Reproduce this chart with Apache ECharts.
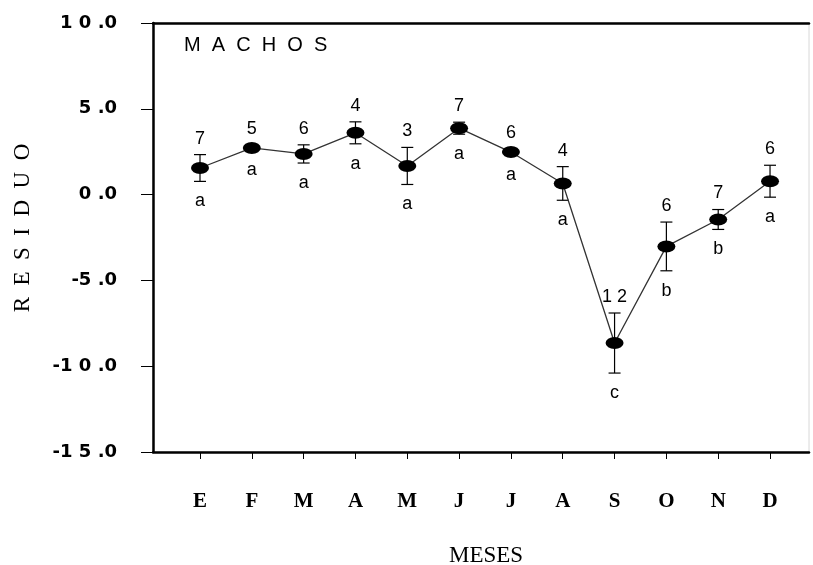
<!DOCTYPE html>
<html>
<head>
<meta charset="utf-8">
<script src="https://cdn.jsdelivr.net/npm/echarts@6/dist/echarts.min.js"></script>
<style>
  html, body { margin: 0; padding: 0; background: #fff; }
  #chart { width: 813px; height: 565px; }
</style>
</head>
<body>
<div id="chart"></div>
<script>
// Monthly mean residual (males) with error bars, sample size and group letter
const months = ['E', 'F', 'M', 'A', 'M', 'J', 'J', 'A', 'S', 'O', 'N', 'D'];
const residualMean = [1.55, 2.72, 2.37, 3.60, 1.67, 3.87, 2.48, 0.65, -8.65, -3.02, -1.45, 0.78];
const residualErr = [0.78, 0.15, 0.53, 0.64, 1.08, 0.35, 0.15, 0.98, 1.75, 1.42, 0.58, 0.93];
const sampleSize = [7, 5, 6, 4, 3, 7, 6, 4, 12, 6, 7, 6];
const groupLetter = ['a', 'a', 'a', 'a', 'a', 'a', 'a', 'a', 'c', 'b', 'b', 'a'];
const yTicks = [-15, -10, -5, 0, 5, 10];

const monthPos = months.map((_, i) => i + 1);
const lineData = monthPos.map((x, i) => [x, residualMean[i]]);
const errData = monthPos.map((x, i) => [x, residualMean[i], residualErr[i]]);

// "10.0" -> "1 0 .0"
function spacedNumber(v) {
  const s = Math.abs(v).toFixed(1).split('.');
  return (v < 0 ? '-' : '') + s[0].split('').join(' ') + ' .' + s[1];
}

const chart = echarts.init(document.getElementById('chart'), null, { renderer: 'canvas' });

const xMin = 0.093, xMax = 12.752;

chart.setOption({
  animation: false,
  backgroundColor: '#ffffff',
  grid: {
    left: 153, right: 4, top: 23, bottom: 113,
    show: true, borderColor: '#d8d8d8', borderWidth: 1, backgroundColor: 'transparent'
  },
  xAxis: [{
    type: 'value', position: 'bottom', min: xMin, max: xMax,
    splitLine: { show: false },
    axisLine: { show: true, onZero: false, lineStyle: { color: '#000', width: 2.5 } },
    axisTick: { show: true, inside: false, length: 7, customValues: monthPos, lineStyle: { color: '#000', width: 1 } },
    axisLabel: {
      customValues: monthPos, margin: 39,
      formatter: v => months[Math.round(v) - 1],
      fontFamily: 'Liberation Serif', fontWeight: 'bold', fontSize: 21, color: '#000'
    }
  }, {
    type: 'value', position: 'top', min: xMin, max: xMax,
    splitLine: { show: false },
    axisLine: { show: true, onZero: false, lineStyle: { color: '#000', width: 2.5 } },
    axisTick: { show: false },
    axisLabel: { show: false }
  }],
  yAxis: {
    type: 'value', min: yTicks[0], max: yTicks[yTicks.length - 1], interval: 5,
    splitLine: { show: false },
    axisLine: { show: true, onZero: false, lineStyle: { color: '#000', width: 2.5 } },
    axisTick: { show: true, inside: false, length: 12, lineStyle: { color: '#000', width: 1 } },
    axisLabel: {
      margin: 36, formatter: v => spacedNumber(v),
      fontFamily: 'DejaVu Sans', fontWeight: 'bold', fontSize: 18, color: '#000'
    }
  },
  graphic: [
    {
      type: 'text', left: 184, top: 35,
      style: { text: 'M  A  C  H  O  S', font: '20px "Liberation Sans"', fill: '#000' }
    },
    {
      type: 'text', x: 23, y: 228, rotation: Math.PI / 2,
      style: {
        text: 'R  E  S  I  D  U  O', font: '23px "Liberation Serif"', fill: '#000',
        align: 'center', verticalAlign: 'middle'
      }
    },
    {
      type: 'text', x: 486, y: 556,
      style: {
        text: 'MESES', font: '23px "Liberation Serif"', fill: '#000',
        align: 'center', verticalAlign: 'middle'
      }
    }
  ],
  series: [
    {
      // error bars plus sample size (above) and group letter (below)
      type: 'custom',
      z: 2,
      data: errData,
      renderItem: function (params, api) {
        const x = api.value(0), m = api.value(1), e = api.value(2);
        const top = api.coord([x, m + e]);
        const bot = api.coord([x, m - e]);
        const cap = 6;
        const i = params.dataIndex;
        const stroke = { stroke: '#000', lineWidth: 1.2 };
        return {
          type: 'group',
          children: [
            { type: 'line', shape: { x1: top[0], y1: top[1], x2: bot[0], y2: bot[1] }, style: stroke },
            { type: 'line', shape: { x1: top[0] - cap, y1: top[1], x2: top[0] + cap, y2: top[1] }, style: stroke },
            { type: 'line', shape: { x1: bot[0] - cap, y1: bot[1], x2: bot[0] + cap, y2: bot[1] }, style: stroke },
            {
              type: 'text', x: top[0], y: top[1] - 16,
              style: {
                text: String(sampleSize[i]).split('').join(' '),
                font: '18px "Liberation Sans"', fill: '#000', align: 'center', verticalAlign: 'middle'
              }
            },
            {
              type: 'text', x: bot[0], y: bot[1] + 20,
              style: {
                text: groupLetter[i],
                font: '18px "Liberation Sans"', fill: '#000', align: 'center', verticalAlign: 'middle'
              }
            }
          ]
        };
      }
    },
    {
      type: 'line',
      z: 3,
      data: lineData,
      symbol: 'circle',
      symbolSize: [18, 12],
      itemStyle: { color: '#000' },
      lineStyle: { color: '#333', width: 1.3 }
    }
  ]
});
</script>
</body>
</html>
